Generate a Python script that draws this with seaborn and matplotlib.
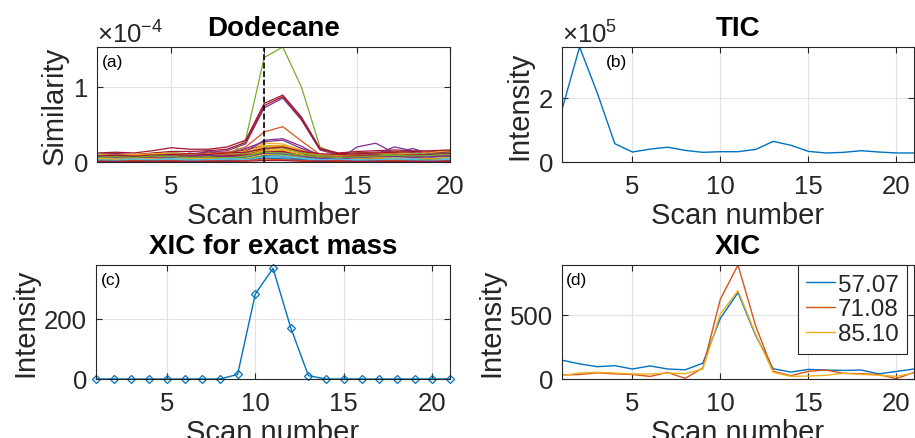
import matplotlib
matplotlib.use("Agg")
import matplotlib.pyplot as plt
import numpy as np
import pandas as pd
import seaborn as sns
from matplotlib.ticker import ScalarFormatter

# ---------------------------------------------------------------- data
scans_a = list(range(1, 21))
scans = list(range(1, 22))

# Similarity traces (units of 1e-4), drawn in MATLAB colour-order sequence
similarity_rows = [
    # cycle 0
    [0.10, 0.11, 0.09, 0.10, 0.12, 0.10, 0.09, 0.10, 0.12, 0.20, 0.22, 0.14, 0.08, 0.06, 0.09, 0.08, 0.10, 0.09, 0.05, 0.11],
    [0.06, 0.07, 0.07, 0.08, 0.09, 0.09, 0.10, 0.12, 0.20, 0.40, 0.47, 0.28, 0.10, 0.06, 0.08, 0.08, 0.09, 0.08, 0.08, 0.08],
    [0.08, 0.07, 0.08, 0.09, 0.10, 0.10, 0.11, 0.12, 0.16, 0.25, 0.24, 0.16, 0.08, 0.07, 0.10, 0.11, 0.12, 0.13, 0.12, 0.13],
    [0.08, 0.09, 0.08, 0.10, 0.12, 0.11, 0.13, 0.15, 0.24, 0.72, 0.85, 0.56, 0.16, 0.09, 0.10, 0.12, 0.14, 0.13, 0.12, 0.13],
    [0.05, 0.06, 0.05, 0.06, 0.08, 0.07, 0.06, 0.04, 0.30, 1.39, 1.53, 1.00, 0.20, 0.10, 0.12, 0.10, 0.08, 0.07, 0.06, 0.06],
    [0.03, 0.04, 0.03, 0.05, 0.04, 0.06, 0.03, 0.05, 0.06, 0.12, 0.11, 0.07, 0.04, 0.03, 0.04, 0.02, 0.05, 0.04, 0.03, 0.04],
    [0.12, 0.13, 0.12, 0.15, 0.19, 0.17, 0.17, 0.20, 0.29, 0.78, 0.89, 0.60, 0.18, 0.12, 0.14, 0.15, 0.16, 0.15, 0.14, 0.15],
    # cycle 1
    [0.05, 0.04, 0.06, 0.05, 0.03, 0.06, 0.05, 0.04, 0.07, 0.15, 0.14, 0.09, 0.05, 0.04, 0.06, 0.05, 0.04, 0.06, 0.05, 0.04],
    [0.09, 0.08, 0.10, 0.09, 0.11, 0.10, 0.12, 0.13, 0.16, 0.22, 0.21, 0.15, 0.10, 0.08, 0.09, 0.10, 0.11, 0.10, 0.09, 0.10],
    [0.04, 0.05, 0.05, 0.06, 0.07, 0.06, 0.07, 0.08, 0.11, 0.22, 0.20, 0.13, 0.06, 0.05, 0.06, 0.07, 0.06, 0.07, 0.06, 0.07],
    [0.04, 0.05, 0.06, 0.08, 0.10, 0.07, 0.15, 0.06, 0.14, 0.29, 0.31, 0.21, 0.08, 0.03, 0.20, 0.25, 0.12, 0.18, 0.10, 0.14],
    [0.07, 0.06, 0.08, 0.07, 0.09, 0.08, 0.09, 0.07, 0.10, 0.16, 0.15, 0.10, 0.06, 0.05, 0.07, 0.08, 0.07, 0.09, 0.08, 0.07],
    [0.02, 0.03, 0.02, 0.03, 0.02, 0.04, 0.02, 0.03, 0.04, 0.08, 0.06, 0.04, 0.02, 0.02, 0.03, 0.01, 0.02, 0.03, 0.02, 0.03],
    [0.10, 0.11, 0.10, 0.12, 0.14, 0.14, 0.15, 0.17, 0.26, 0.75, 0.87, 0.58, 0.17, 0.11, 0.12, 0.13, 0.14, 0.13, 0.13, 0.14],
    # cycle 2
    [0.07, 0.06, 0.05, 0.07, 0.08, 0.06, 0.07, 0.03, 0.08, 0.12, 0.10, 0.06, 0.04, 0.05, 0.03, 0.06, 0.07, 0.05, 0.09, 0.06],
    [0.05, 0.06, 0.05, 0.04, 0.06, 0.07, 0.06, 0.08, 0.09, 0.17, 0.19, 0.12, 0.07, 0.05, 0.06, 0.07, 0.08, 0.07, 0.06, 0.07],
    [0.06, 0.06, 0.07, 0.06, 0.08, 0.09, 0.08, 0.10, 0.13, 0.20, 0.22, 0.14, 0.07, 0.06, 0.07, 0.08, 0.09, 0.08, 0.07, 0.09],
    [0.05, 0.04, 0.05, 0.06, 0.05, 0.12, 0.08, 0.10, 0.18, 0.27, 0.29, 0.18, 0.10, 0.05, 0.08, 0.10, 0.20, 0.15, 0.05, 0.12],
    [0.04, 0.05, 0.04, 0.05, 0.06, 0.05, 0.04, 0.06, 0.07, 0.11, 0.10, 0.07, 0.04, 0.03, 0.05, 0.06, 0.05, 0.04, 0.05, 0.06],
    [0.05, 0.04, 0.06, 0.04, 0.05, 0.03, 0.06, 0.04, 0.05, 0.09, 0.10, 0.06, 0.05, 0.03, 0.05, 0.04, 0.05, 0.06, 0.04, 0.05],
    [0.02, 0.02, 0.03, 0.02, 0.03, 0.02, 0.03, 0.02, 0.03, 0.05, 0.05, 0.04, 0.02, 0.02, 0.03, 0.02, 0.03, 0.02, 0.02, 0.03],
    # cycle 3
    [0.03, 0.02, 0.03, 0.04, 0.02, 0.03, 0.04, 0.02, 0.05, 0.09, 0.08, 0.05, 0.03, 0.02, 0.03, 0.04, 0.02, 0.03, 0.04, 0.02],
    [0.03, 0.04, 0.03, 0.05, 0.04, 0.03, 0.05, 0.04, 0.06, 0.12, 0.13, 0.08, 0.04, 0.03, 0.04, 0.05, 0.03, 0.04, 0.05, 0.03],
    [0.10, 0.09, 0.10, 0.11, 0.12, 0.11, 0.10, 0.11, 0.14, 0.18, 0.17, 0.13, 0.10, 0.09, 0.11, 0.12, 0.13, 0.14, 0.13, 0.15],
    [0.02, 0.03, 0.02, 0.04, 0.03, 0.02, 0.04, 0.03, 0.05, 0.10, 0.11, 0.07, 0.03, 0.02, 0.03, 0.02, 0.04, 0.03, 0.02, 0.03],
    [0.09, 0.08, 0.07, 0.08, 0.10, 0.09, 0.08, 0.09, 0.12, 0.18, 0.19, 0.12, 0.08, 0.07, 0.08, 0.09, 0.10, 0.11, 0.10, 0.12],
    [0.08, 0.07, 0.06, 0.07, 0.05, 0.08, 0.07, 0.06, 0.07, 0.13, 0.12, 0.08, 0.06, 0.05, 0.07, 0.06, 0.08, 0.05, 0.07, 0.06],
    [0.08, 0.09, 0.08, 0.09, 0.10, 0.11, 0.10, 0.12, 0.13, 0.18, 0.20, 0.14, 0.11, 0.10, 0.11, 0.12, 0.13, 0.14, 0.15, 0.16],
    # cycle 4
    [0.06, 0.07, 0.06, 0.05, 0.07, 0.05, 0.06, 0.07, 0.06, 0.10, 0.09, 0.06, 0.05, 0.06, 0.05, 0.07, 0.06, 0.08, 0.06, 0.05],
    [0.07, 0.06, 0.08, 0.07, 0.06, 0.08, 0.07, 0.09, 0.10, 0.14, 0.15, 0.10, 0.06, 0.07, 0.08, 0.06, 0.09, 0.10, 0.08, 0.07],
    [0.02, 0.03, 0.02, 0.03, 0.04, 0.03, 0.02, 0.04, 0.05, 0.10, 0.09, 0.06, 0.03, 0.02, 0.03, 0.04, 0.03, 0.02, 0.03, 0.04],
    [0.06, 0.05, 0.07, 0.06, 0.08, 0.07, 0.06, 0.08, 0.09, 0.14, 0.13, 0.09, 0.06, 0.05, 0.07, 0.06, 0.07, 0.08, 0.07, 0.09],
    [0.03, 0.02, 0.03, 0.02, 0.04, 0.03, 0.05, 0.02, 0.04, 0.07, 0.08, 0.05, 0.03, 0.02, 0.04, 0.03, 0.02, 0.04, 0.03, 0.02],
    [0.04, 0.05, 0.03, 0.02, 0.05, 0.04, 0.02, 0.05, 0.03, 0.06, 0.05, 0.03, 0.04, 0.05, 0.03, 0.02, 0.06, 0.04, 0.08, 0.03],
    [0.05, 0.06, 0.07, 0.06, 0.07, 0.08, 0.07, 0.08, 0.09, 0.13, 0.14, 0.10, 0.07, 0.06, 0.08, 0.09, 0.08, 0.09, 0.10, 0.11],
    # cycle 5
    [0.01, 0.02, 0.01, 0.02, 0.01, 0.02, 0.01, 0.02, 0.03, 0.05, 0.04, 0.03, 0.01, 0.02, 0.01, 0.02, 0.01, 0.02, 0.01, 0.02],
    [0.01, 0.01, 0.02, 0.01, 0.02, 0.01, 0.02, 0.01, 0.02, 0.04, 0.03, 0.02, 0.01, 0.02, 0.01, 0.01, 0.02, 0.01, 0.02, 0.01],
    [0.05, 0.04, 0.04, 0.05, 0.06, 0.05, 0.05, 0.06, 0.08, 0.15, 0.16, 0.10, 0.05, 0.04, 0.05, 0.06, 0.05, 0.06, 0.05, 0.06],
    [0.07, 0.06, 0.06, 0.07, 0.06, 0.08, 0.09, 0.07, 0.08, 0.12, 0.12, 0.08, 0.05, 0.04, 0.06, 0.07, 0.08, 0.06, 0.07, 0.08],
    [0.06, 0.07, 0.06, 0.08, 0.07, 0.06, 0.07, 0.05, 0.08, 0.13, 0.12, 0.09, 0.07, 0.06, 0.07, 0.08, 0.09, 0.08, 0.09, 0.10],
    [0.03, 0.02, 0.04, 0.03, 0.04, 0.02, 0.03, 0.04, 0.03, 0.07, 0.08, 0.05, 0.03, 0.04, 0.02, 0.03, 0.04, 0.03, 0.02, 0.04],
    [0.01, 0.01, 0.01, 0.01, 0.01, 0.01, 0.01, 0.01, 0.01, 0.02, 0.02, 0.01, 0.01, 0.01, 0.01, 0.01, 0.01, 0.01, 0.01, 0.01],
]
similarity_scale = 1e-4
selected_scan = 10

tic = [1.63e5, 3.57e5, 2.15e5, 0.57e5, 0.31e5, 0.40e5, 0.46e5, 0.36e5, 0.30e5, 0.32e5,
       0.32e5, 0.39e5, 0.64e5, 0.52e5, 0.33e5, 0.28e5, 0.30e5, 0.35e5, 0.31e5, 0.28e5, 0.28e5]

xic_exact = [0, 0, 0, 0, 0, 0, 0, 0, 15, 281, 366, 170, 11, 0, 0, 0, 0, 0, 0, 0, 0]

xic_masses = ["57.07", "71.08", "85.10"]
xic_5707 = [147, 118, 96, 104, 78, 102, 78, 72, 123, 474, 675, 340, 80, 54, 75, 70, 67, 70, 40, 59, 78]
xic_7108 = [31, 35, 48, 40, 35, 20, 51, 5, 86, 624, 890, 416, 60, 26, 60, 70, 44, 42, 34, 3, 52]
xic_8510 = [26, 47, 52, 47, 39, 39, 47, 42, 78, 507, 690, 351, 52, 21, 23, 29, 44, 36, 29, 21, 47]

matlab_colors = ["#0072BD", "#D95319", "#EDB120", "#7E2F8E", "#77AC30", "#4DBEEE", "#A2142F"]

# ---------------------------------------------------------------- style
sns.set_theme(style="white")
dark = "#262626"
plt.rcParams.update({
    "font.family": ["Liberation Sans", "DejaVu Sans"],
    "mathtext.fontset": "custom",
    "mathtext.rm": "Liberation Sans",
    "mathtext.it": "Liberation Sans:italic",
    "mathtext.bf": "Liberation Sans:bold",
    "axes.edgecolor": dark,
    "axes.linewidth": 0.8,
    "axes.labelcolor": dark,
    "axes.labelsize": 21,
    "axes.titlesize": 20,
    "axes.titleweight": "bold",
    "axes.titlepad": 8.5,
    "xtick.direction": "in",
    "ytick.direction": "in",
    "xtick.top": True,
    "xtick.bottom": True,
    "ytick.left": True,
    "ytick.right": True,
    "xtick.major.size": 4,
    "ytick.major.size": 4,
    "xtick.major.width": 0.8,
    "ytick.major.width": 0.8,
    "xtick.color": dark,
    "ytick.color": dark,
    "xtick.labelsize": 18.5,
    "ytick.labelsize": 18.5,
    "xtick.major.pad": 9,
    "ytick.major.pad": 6.5,
})

W, H = 915, 439
fig = plt.figure(figsize=(W / 100, H / 100), dpi=100)


def px_axes(left, top, right, bottom):
    return fig.add_axes([left / W, 1 - bottom / H, (right - left) / W, (bottom - top) / H])


ax_a = px_axes(97, 48, 450, 163)
ax_b = px_axes(562, 48, 914, 163)
ax_c = px_axes(96, 266, 450, 380)
ax_d = px_axes(562, 266, 914, 380)


def dress(ax, title, ylabel, xmax, panel, panel_x):
    ax.set_title(title, color="black")
    ax.set_xlabel("Scan number", labelpad=1.5)
    ax.set_ylabel(ylabel, labelpad=3)
    ax.set_xlim(1, xmax)
    ax.set_xticks([5, 10, 15, 20])
    ax.grid(True, color="#e2e2e2", linewidth=0.8)
    ax.set_axisbelow(True)
    for s in ax.spines.values():
        s.set_visible(True)
        s.set_color(dark)
        s.set_linewidth(0.8)
    ax.text(panel_x, 0.935, panel, transform=ax.transAxes, fontsize=12.5,
            va="top", ha="left", color="black")


def sci_axis(ax):
    fmt = ScalarFormatter(useMathText=True)
    fmt.set_powerlimits((0, 0))
    ax.yaxis.set_major_formatter(fmt)
    ax.yaxis.get_offset_text().set_fontsize(18.5)
    ax.yaxis.get_offset_text().set_color(dark)


# (a) similarity traces
names = [f"s{i:02d}" for i in range(len(similarity_rows))]
df_a = pd.DataFrame({
    "scan": np.tile(scans_a, len(similarity_rows)),
    "similarity": np.concatenate(similarity_rows) * similarity_scale,
    "series": np.repeat(names, len(scans_a)),
})
palette_a = {n: matlab_colors[i % len(matlab_colors)] for i, n in enumerate(names)}
sns.lineplot(data=df_a, x="scan", y="similarity", hue="series", hue_order=names,
             palette=palette_a, legend=False, estimator=None, linewidth=0.9, ax=ax_a)
ax_a.axvline(selected_scan, color="black", linewidth=1.2, linestyle=(0, (3.5, 1.6)))
dress(ax_a, "Dodecane", "Similarity", 20, "(a)", 0.015)
ax_a.set_ylim(0, df_a["similarity"].max())
ax_a.set_yticks([0, 1e-4])
sci_axis(ax_a)

# (b) total ion chromatogram
sns.lineplot(x=scans, y=tic, color=matlab_colors[0], linewidth=1.0, ax=ax_b)
dress(ax_b, "TIC", "Intensity", 21, "(b)", 0.125)
ax_b.set_ylim(0, max(tic))
ax_b.set_yticks([0, 2e5])
sci_axis(ax_b)

# (c) XIC for the exact mass
sns.lineplot(x=scans, y=xic_exact, color=matlab_colors[0], linewidth=1.0,
             marker="D", markersize=4.5, ax=ax_c)
for ln in ax_c.lines:
    ln.set_markerfacecolor("none")
    ln.set_markeredgecolor(matlab_colors[0])
    ln.set_markeredgewidth(0.9)
    ln.set_clip_on(False)
dress(ax_c, "XIC for exact mass", "Intensity", 21, "(c)", 0.015)
ax_c.set_ylim(0, 377)
ax_c.set_yticks([0, 200])

# (d) XIC for three nominal fragment masses
df_d = pd.DataFrame({
    "scan": np.tile(scans, 3),
    "intensity": np.concatenate([xic_5707, xic_7108, xic_8510]),
    "mass": np.repeat(xic_masses, len(scans)),
})
sns.lineplot(data=df_d, x="scan", y="intensity", hue="mass", hue_order=xic_masses,
             palette=matlab_colors[:3], legend=False, linewidth=1.0, ax=ax_d)
dress(ax_d, "XIC", "Intensity", 21, "(d)", 0.012)
ax_d.set_ylim(0, df_d["intensity"].max())
ax_d.set_yticks([0, 500])
leg = ax_d.legend(ax_d.lines[:3], xic_masses, loc="upper right",
                  bbox_to_anchor=(1 - 7 / 352, 1.0), borderaxespad=0,
                  fontsize=17.5, frameon=True, fancybox=False, framealpha=1,
                  edgecolor=dark, handlelength=1.2, handletextpad=0.1,
                  labelspacing=0.12, borderpad=0.35)
leg.get_frame().set_linewidth(0.8)

fig.savefig("out.png", dpi=100)
